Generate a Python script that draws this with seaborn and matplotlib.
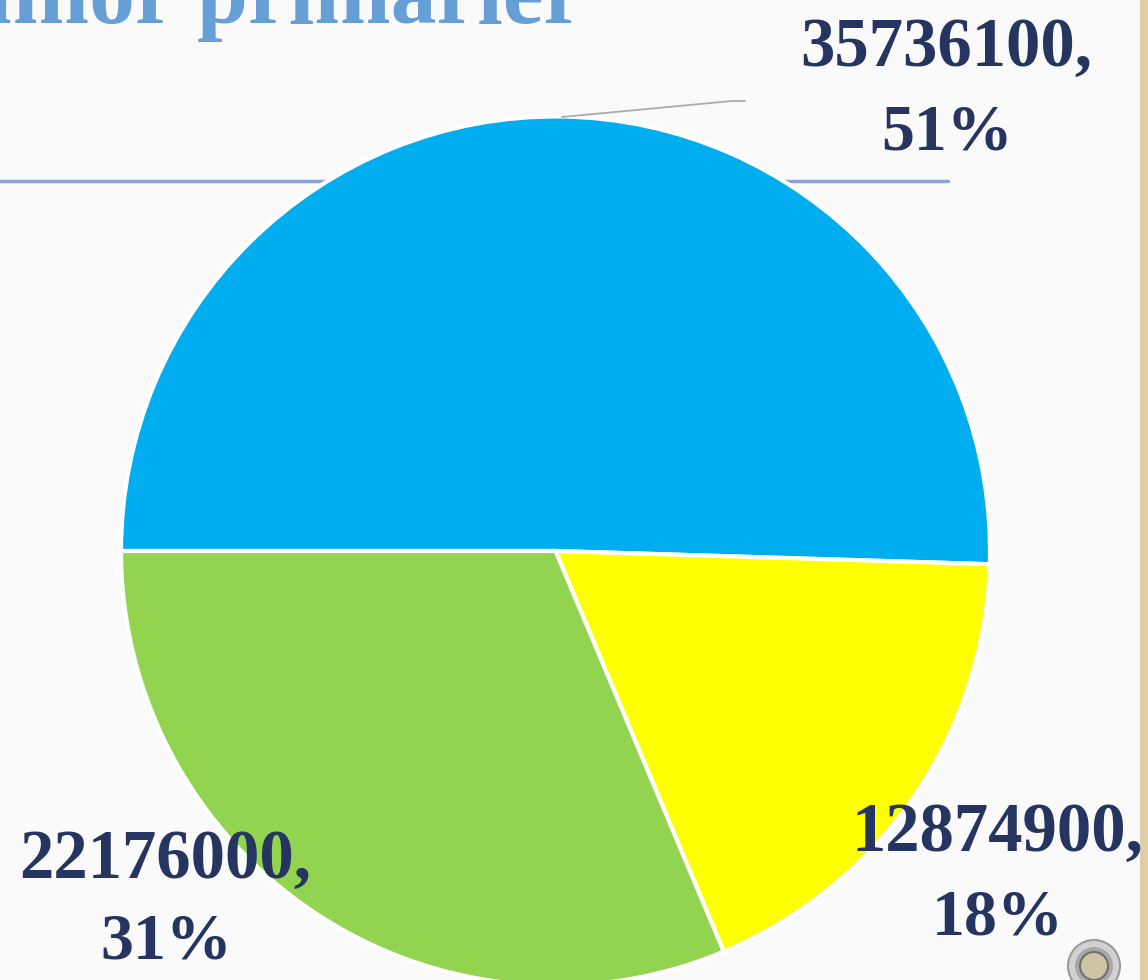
import matplotlib.pyplot as plt
from matplotlib.patches import Circle, Rectangle
import seaborn as sns

values = [35736100, 12874900, 22176000]
percents = [51, 18, 31]
colors = ['#00AEEF', '#FFFF00', '#92D350']
title_text = 'Tumor primarier'

sns.set_theme(style='white')
plt.rcParams['font.family'] = ['Liberation Serif', 'DejaVu Serif']

W, H = 1148, 980
fig = plt.figure(figsize=(W / 100, H / 100), dpi=100, facecolor='#FAFAFA')

# pixel coordinates layer for the slide stuff
bg = fig.add_axes([0, 0, 1, 1], zorder=1)
bg.set_xlim(0, W)
bg.set_ylim(H, 0)
bg.axis('off')
bg.plot([0, 340], [181, 181], color='#8FA2D6', lw=2.5)
bg.plot([770, 948], [181, 181], color='#8FA2D6', lw=2.5)
bg.text(584, 23, title_text, color='#659FD5', fontsize=66, fontweight='bold',
        ha='right', va='baseline')

# pie, centre at 555,551 (radius includes the white edge)
cx, cy, r = 555.5, 551, 434.5
pie_ax = fig.add_axes([(cx - r) / W, 1 - (cy + r) / H, 2 * r / W, 2 * r / H], zorder=2)
pie_ax.pie(values, colors=sns.color_palette(colors), startangle=180, counterclock=False,
           radius=1, wedgeprops={'edgecolor': 'white', 'linewidth': 3, 'clip_on': False})
pie_ax.set_xlim(-1, 1)
pie_ax.set_ylim(-1, 1)
pie_ax.set_aspect('equal')

# labels on top
top = fig.add_axes([0, 0, 1, 1], zorder=3)
top.set_xlim(0, W)
top.set_ylim(H, 0)
top.axis('off')
top.patch.set_alpha(0)
top.plot([562, 732, 745], [117, 101, 101], color='#ABABAB', lw=1.3)

label_pos = [(946, 66, 149), (997, 851, 934), (165, 878, 958)]
for val, pct, (x, y1, y2) in zip(values, percents, label_pos):
    top.text(x, y1, f'{val},', color='#253560', fontsize=49.5, fontweight='bold',
             ha='center', va='baseline')
    top.text(x + 1, y2, f'{pct}%', color='#253560', fontsize=47.5, fontweight='bold',
             ha='center', va='baseline')

# canvas edge and grommet
top.add_patch(Rectangle((1140, 0), 8, H, color='#DCCFA9', lw=0))
top.add_patch(Circle((1094, 966), 26, facecolor='#D2D2D2', edgecolor='#9A9A9A', lw=1.5))
top.add_patch(Circle((1094, 966), 19, facecolor='#A8A8A8', edgecolor='none'))
top.add_patch(Circle((1094, 966), 14, facecolor='#CFC5A5', edgecolor='#6F6F6F', lw=1.5))

fig.savefig('out.png', dpi=100, facecolor=fig.get_facecolor())
